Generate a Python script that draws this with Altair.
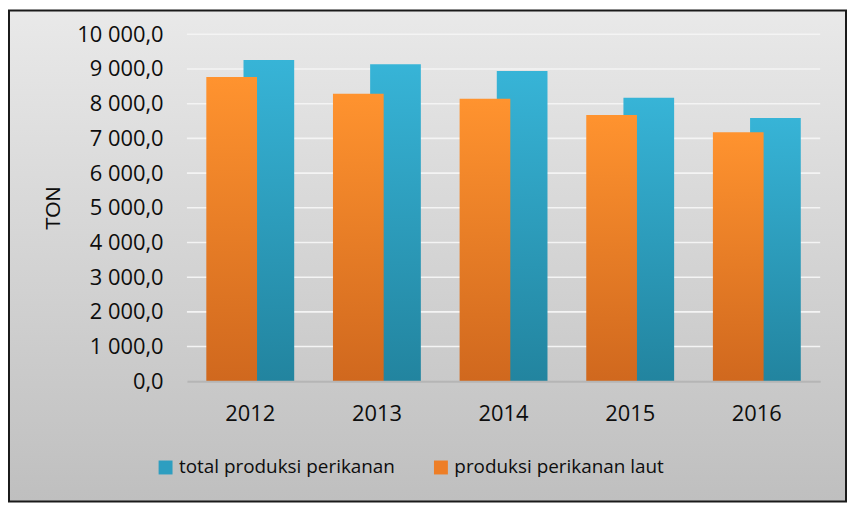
import altair as alt
import pandas as pd

# ---- data ----
years = ["2012", "2013", "2014", "2015", "2016"]
total_produksi = [9257, 9134, 8943, 8171, 7591]
produksi_laut = [8771, 8286, 8143, 7677, 7180]
y_ticks = [0, 1000, 2000, 3000, 4000, 5000, 6000, 7000, 8000, 9000, 10000]
series_names = ["total produksi perikanan", "produksi perikanan laut"]
series_colors = ["#2E9EC0", "#EE7E26"]

df = pd.DataFrame({"year": years, "total": total_produksi, "laut": produksi_laut})
long_df = pd.DataFrame({
    "year": years * 2,
    "value": total_produksi + produksi_laut,
    "series": [series_names[0]] * 5 + [series_names[1]] * 5,
})
grid_df = pd.DataFrame({"tick": y_ticks[1:]})

W, H = 637, 349
FONT = "Open Sans"
TXT = "#0d0d0d"

def grad(top, bottom):
    return alt.LinearGradient(
        gradient="linear",
        stops=[alt.GradientStop(color=top, offset=0), alt.GradientStop(color=bottom, offset=1)],
        x1=0, x2=0, y1=0, y2=1,
    )

yscale = alt.Scale(domain=[0, 10000], nice=False)
xscale = alt.Scale(paddingInner=0, paddingOuter=0)

yaxis = alt.Axis(values=y_ticks, grid=False, ticks=False, tickSize=0, domain=False,
                 labelOverlap=False, labelFlush=False,
                 labelFont=FONT, labelFontSize=22, labelColor=TXT, labelPadding=24,
                 labelExpr="replace(replace(format(datum.value, ',.1f'), ',', ' '), '.', ',')",
                 titleFont="Liberation Sans", titleFontSize=21, titleFontWeight="normal",
                 titleColor=TXT, titleX=-134, titleY=174.5, titleAngle=270,
                 titleAlign="center", titleBaseline="middle", zindex=1)
xaxis = alt.Axis(labelFont=FONT, labelFontSize=22, labelColor=TXT, labelAngle=0,
                 ticks=False, tickSize=0, labelPadding=22, domainColor="#b5b5b5",
                 domainWidth=2, grid=False, zindex=1)

# background frame with gradient
frame = alt.Chart(alt.Data(values=[{"a": 1}])).mark_rect(
    fill=grad("#e9e9e9", "#bfbfbf"), stroke="#1a1a1a", strokeWidth=2, clip=False
).encode(
    x=alt.value(-179), x2=alt.value(663), y=alt.value(-24), y2=alt.value(470)
)

grid = alt.Chart(grid_df).mark_rule(color="#f4f4f4", strokeWidth=1.6).encode(
    y=alt.Y("tick:Q", scale=yscale, axis=yaxis, title="TON")
)

blue = alt.Chart(df).mark_bar(
    width=51, xOffset=18.7, fill=grad("#37B4D7", "#22849F")
).encode(
    x=alt.X("year:N", scale=xscale, title=None, axis=xaxis),
    y=alt.Y("total:Q", scale=yscale, title="TON", axis=yaxis),
)

orange = alt.Chart(df).mark_bar(
    width=51, xOffset=-18.7, fill=grad("#FF932F", "#D0681E")
).encode(
    x=alt.X("year:N", scale=xscale, title=None, axis=xaxis),
    y=alt.Y("laut:Q", scale=yscale, title="TON", axis=yaxis),
)

legend_layer = alt.Chart(long_df).mark_square(opacity=0).encode(
    x=alt.X("year:N", scale=xscale, title=None, axis=xaxis),
    y=alt.Y("value:Q", scale=yscale, title="TON", axis=yaxis),
    color=alt.Color("series:N",
                    scale=alt.Scale(domain=series_names, range=series_colors),
                    legend=alt.Legend(orient="none", legendX=-31, legendY=426, direction="horizontal",
                                      title=None, symbolType="square", symbolSize=196,
                                      symbolOpacity=1, symbolStrokeWidth=0, labelFont=FONT,
                                      labelFontSize=19, labelColor=TXT, labelOffset=4,
                                      columnPadding=36, labelLimit=400)),
)

chart = alt.layer(frame, grid, blue, orange, legend_layer).properties(
    width=W, height=H,
    autosize=alt.AutoSizeParams(type="none"),
    padding={"left": 180, "top": 25, "right": 27, "bottom": 122},
).configure_view(stroke=None).configure(background="white")

chart.save("out.html", embed_options={"renderer": "svg", "actions": False})
